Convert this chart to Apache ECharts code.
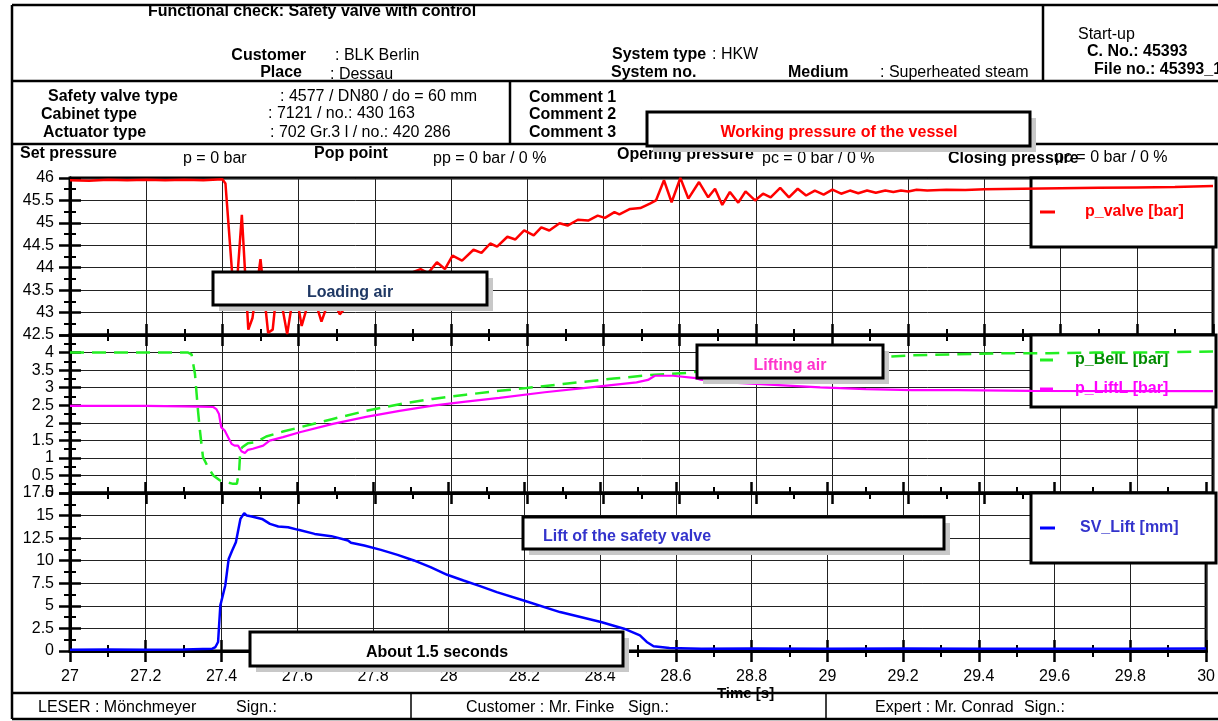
<!DOCTYPE html>
<html>
<head>
<meta charset="utf-8">
<title>Functional check: Safety valve with control</title>
<script src="https://cdn.jsdelivr.net/npm/echarts@6/dist/echarts.min.js"></script>
<style>
  html, body { margin: 0; padding: 0; background: #fff; }
  #chart { width: 1218px; height: 721px; }
</style>
</head>
<body>
<div id="chart"></div>
<script>
// ---- Measurement data: [time in s, value] ----
const timeRange = [27, 30];          // recording window
const timeStep = 0.2;

const pValveRange = [42.5, 46, 0.5]; // bar
const airRange = [0, 4.5, 0.5];      // bar
const liftRange = [0, 17.5, 2.5];    // mm

// Working pressure of the vessel
const pValve = [
  [27.00, 45.95], [27.05, 45.94], [27.10, 45.96], [27.15, 45.95], [27.20, 45.96],
  [27.25, 45.95], [27.30, 45.96], [27.35, 45.95], [27.40, 45.97], [27.408, 45.88],
  [27.428, 43.60], [27.436, 43.40], [27.451, 45.18], [27.468, 42.62], [27.479, 42.88],
  [27.500, 44.19], [27.520, 42.55], [27.532, 42.62], [27.545, 43.70], [27.570, 42.52],
  [27.590, 43.60], [27.608, 42.70], [27.620, 43.06], [27.635, 43.50], [27.660, 42.80],
  [27.685, 43.40], [27.708, 42.96], [27.740, 43.30], [27.780, 43.50], [27.820, 43.65],
  [27.860, 43.80], [27.900, 43.90], [27.920, 43.97], [27.940, 43.88], [27.963, 44.12],
  [27.984, 43.97], [28.004, 44.27], [28.029, 44.16], [28.059, 44.40], [28.080, 44.33],
  [28.103, 44.54], [28.121, 44.47], [28.148, 44.69], [28.169, 44.63], [28.192, 44.83],
  [28.217, 44.72], [28.237, 44.90], [28.258, 44.83], [28.285, 44.99], [28.306, 44.94],
  [28.333, 45.07], [28.360, 45.05], [28.385, 45.16], [28.404, 45.11], [28.429, 45.24],
  [28.442, 45.19], [28.470, 45.31], [28.497, 45.33], [28.522, 45.43], [28.538, 45.50],
  [28.559, 45.95], [28.579, 45.46], [28.602, 46.00], [28.623, 45.54], [28.651, 45.91],
  [28.675, 45.57], [28.693, 45.76], [28.712, 45.40], [28.732, 45.69], [28.754, 45.45],
  [28.773, 45.70], [28.798, 45.50], [28.819, 45.65], [28.839, 45.57], [28.864, 45.78],
  [28.887, 45.57], [28.910, 45.76], [28.932, 45.61], [28.955, 45.72], [28.978, 45.63],
  [29.001, 45.74], [29.024, 45.65], [29.047, 45.72], [29.069, 45.66], [29.092, 45.72],
  [29.115, 45.67], [29.140, 45.72], [29.161, 45.69], [29.181, 45.72], [29.200, 45.70],
  [29.222, 45.74], [29.250, 45.72], [29.300, 45.74], [29.350, 45.73], [29.400, 45.75],
  [29.500, 45.76], [29.600, 45.77], [29.700, 45.78], [29.800, 45.79], [29.900, 45.80],
  [30.000, 45.82]
];

// Loading air (bellows)
const pBelL = [
  [27.00, 4.00], [27.10, 4.00], [27.20, 4.00], [27.310, 4.00], [27.319, 3.95],
  [27.328, 3.39], [27.336, 2.34], [27.341, 1.78], [27.349, 1.02], [27.362, 0.74],
  [27.376, 0.50], [27.393, 0.36], [27.410, 0.31], [27.428, 0.26], [27.438, 0.26],
  [27.444, 0.64], [27.447, 1.21], [27.452, 1.30], [27.467, 1.42], [27.489, 1.45],
  [27.515, 1.61], [27.559, 1.75], [27.603, 1.87], [27.690, 2.11], [27.777, 2.34],
  [27.865, 2.53], [27.952, 2.68], [28.039, 2.80], [28.127, 2.91], [28.198, 2.99],
  [28.306, 3.12], [28.427, 3.26], [28.523, 3.36], [28.619, 3.42], [28.750, 3.58],
  [28.900, 3.74], [29.050, 3.84], [29.149, 3.88], [29.210, 3.92], [29.330, 3.95],
  [29.450, 3.98], [29.570, 3.98], [29.690, 4.00], [29.810, 4.00], [30.000, 4.03]
];

// Lifting air
const pLiftL = [
  [27.00, 2.48], [27.10, 2.48], [27.20, 2.48], [27.30, 2.47], [27.341, 2.46],
  [27.376, 2.45], [27.384, 2.39], [27.391, 2.25], [27.397, 1.87], [27.406, 1.78],
  [27.415, 1.59], [27.424, 1.40], [27.432, 1.35], [27.441, 1.35], [27.450, 1.19],
  [27.459, 1.14], [27.467, 1.23], [27.480, 1.26], [27.507, 1.35], [27.524, 1.49],
  [27.559, 1.59], [27.603, 1.73], [27.690, 1.97], [27.777, 2.17], [27.865, 2.34],
  [27.952, 2.49], [28.039, 2.60], [28.127, 2.71], [28.246, 2.87], [28.366, 3.01],
  [28.487, 3.15], [28.517, 3.22], [28.535, 3.34], [28.583, 3.34], [28.643, 3.27],
  [28.655, 3.23], [28.728, 3.15], [28.848, 3.08], [28.969, 3.01], [29.089, 2.96],
  [29.210, 2.93], [29.330, 2.93], [29.523, 2.91], [30.000, 2.90]
];

// Lift of the safety valve
const svLift = [
  [27.00, 0.15], [27.10, 0.16], [27.20, 0.15], [27.30, 0.17], [27.376, 0.26],
  [27.384, 0.44], [27.391, 1.00], [27.397, 5.05], [27.410, 7.26], [27.419, 10.20],
  [27.428, 11.10], [27.438, 12.05], [27.450, 14.63], [27.460, 15.26], [27.467, 15.00],
  [27.480, 14.90], [27.507, 14.63], [27.528, 14.08], [27.550, 13.79], [27.576, 13.71],
  [27.603, 13.42], [27.646, 12.97], [27.690, 12.72], [27.734, 12.24], [27.742, 11.98],
  [27.777, 11.68], [27.821, 11.20], [27.865, 10.65], [27.908, 10.03], [27.952, 9.29],
  [27.996, 8.44], [28.039, 7.81], [28.083, 7.19], [28.127, 6.52], [28.198, 5.60],
  [28.294, 4.31], [28.402, 3.21], [28.463, 2.47], [28.505, 1.73], [28.523, 1.00],
  [28.541, 0.52], [28.583, 0.33], [28.667, 0.26], [28.800, 0.27], [29.000, 0.26],
  [29.200, 0.27], [29.400, 0.24], [29.600, 0.26], [29.800, 0.25], [30.000, 0.27]
];

// ---- Drawing ----
const FONT = '"Liberation Sans", Arial, sans-serif';
const FS = 16;
const chart = echarts.init(document.getElementById('chart'), null, { renderer: 'canvas' });

const PLOT_LEFT = 70, PLOT_W = 1143;
const grids = [
  { top: 178, height: 157 },
  { top: 335, height: 158 },
  { top: 493, height: 158 }
];

function text(x, y, str, o) {
  o = o || {};
  const align = o.align || 'left';
  return {
    type: 'text', z: o.z || 6, silent: true,
    style: {
      x: x, y: y + 1, text: str,
      font: (o.bold ? 'bold ' : '') + (o.size || FS) + 'px ' + FONT,
      fill: o.color || '#000',
      align: align, verticalAlign: 'middle',
      textAlign: align, textVerticalAlign: 'middle'
    }
  };
}
function rule(x1, y1, x2, y2, w) {
  return { type: 'line', z: 6, silent: true, shape: { x1, y1, x2, y2 }, style: { stroke: '#000', lineWidth: w || 2.5 } };
}
function note(x1, y1, x2, y2, str, color, tx, align) {
  const w = x2 - x1, h = y2 - y1;
  return [
    { type: 'rect', z: 10, silent: true, shape: { x: x1 + 6, y: y1 + 6, width: w, height: h }, style: { fill: '#c8c8c8' } },
    { type: 'rect', z: 10, silent: true, shape: { x: x1, y: y1, width: w, height: h }, style: { fill: '#fff', stroke: '#000', lineWidth: 3 } },
    Object.assign(text(tx, y1 + h / 2 + 3, str, { bold: true, color: color, align: align || 'center' }), { z: 11 })
  ];
}
function legendBox(y1, y2) {
  return { type: 'rect', z: 1, silent: true, shape: { x: 1031, y: y1, width: 185, height: y2 - y1 }, style: { fill: '#fff', stroke: '#000', lineWidth: 3 } };
}

const graphics = [].concat(
  // outer frame and table rules
  rule(12, 5, 1218, 5, 2.5),
  rule(12, 5, 12, 719, 2.5),
  rule(12, 719, 1218, 719, 2.5),
  rule(12, 81, 1218, 81, 2.5),
  rule(1043, 5, 1043, 81, 2.5),
  rule(12, 144, 1218, 144, 2.5),
  rule(510, 81, 510, 144, 2.5),
  rule(12, 693, 1218, 693, 2.5),
  rule(411, 693, 411, 719, 1.5),
  rule(826, 693, 826, 719, 1.5),

  // header row 1
  text(306, 55, 'Customer', { bold: true, align: 'right' }),
  text(335, 55, ': BLK Berlin'),
  text(302, 72, 'Place', { bold: true, align: 'right' }),
  text(330, 74, ': Dessau'),
  text(612, 54, 'System type', { bold: true }),
  text(712, 54, ': HKW'),
  text(611, 72, 'System no.', { bold: true }),
  text(788, 72, 'Medium', { bold: true }),
  text(880, 72, ': Superheated steam'),
  text(1078, 34, 'Start-up'),
  text(1087, 51, 'C. No.: 45393', { bold: true }),
  text(1094, 69, 'File no.: 45393_1', { bold: true }),

  // header row 2
  text(48, 96, 'Safety valve type', { bold: true }),
  text(280, 96, ': 4577 / DN80 / do = 60 mm'),
  text(41, 114, 'Cabinet type', { bold: true }),
  text(268, 113, ': 7121 / no.: 430 163'),
  text(43, 132, 'Actuator type', { bold: true }),
  text(270, 132, ': 702 Gr.3 l / no.: 420 286'),
  text(529, 97, 'Comment 1', { bold: true }),
  text(529, 114, 'Comment 2', { bold: true }),
  text(529, 132, 'Comment 3', { bold: true }),

  // characteristic pressures
  text(20, 153, 'Set pressure', { bold: true }),
  text(183, 158, 'p = 0 bar'),
  text(314, 153, 'Pop point', { bold: true }),
  text(433, 158, 'pp = 0 bar / 0 %'),
  text(617, 154, 'Opening pressure', { bold: true }),
  text(762, 158, 'pc = 0 bar / 0 %'),
  text(948, 158, 'Closing pressure', { bold: true }),
  text(1055, 157, 'pc = 0 bar / 0 %'),

  // signatures
  text(38, 707, 'LESER : Mönchmeyer'),
  text(236, 707, 'Sign.:'),
  text(466, 707, 'Customer : Mr. Finke'),
  text(628, 707, 'Sign.:'),
  text(875, 707, 'Expert : Mr. Conrad'),
  text(1024, 707, 'Sign.:'),

  // legend frames
  legendBox(178, 247),
  legendBox(335, 407),
  legendBox(493, 563),

  // annotations
  note(647, 112, 1030, 146, 'Working pressure of the vessel', '#ff0000', 839),
  note(213, 272, 487, 305, 'Loading air', '#1f3864', 350),
  note(697, 345, 883, 378, 'Lifting air', '#ff33cc', 790),
  note(523, 517, 944, 549, 'Lift of the safety valve', '#3333cc', 543, 'left'),
  note(250, 632, 623, 666, 'About 1.5 seconds', '#000', 437)
);

const axisLineStyle = { show: true, onZero: false, lineStyle: { color: '#000', width: 3 } };
const gridSplit = { show: true, lineStyle: { color: '#222', width: 1 } };

function xAxis(gridIndex, position, inside, extra) {
  return Object.assign({
    type: 'value', gridIndex: gridIndex, position: position,
    min: timeRange[0], max: timeRange[1], interval: timeStep,
    axisLine: axisLineStyle,
    axisTick: { show: true, inside: inside, length: 11, lineStyle: { color: '#000', width: 2.5 } },
    minorTick: { show: true, splitNumber: 2, length: 6, lineStyle: { color: '#000', width: 2 } },
    axisLabel: { show: false },
    splitLine: { show: false },
    minorSplitLine: { show: false }
  }, extra || {});
}
function yAxis(gridIndex, range, inside, extra) {
  return Object.assign({
    type: 'value', gridIndex: gridIndex, position: 'left',
    min: range[0], max: range[1], interval: range[2],
    axisLine: axisLineStyle,
    axisTick: { show: true, inside: inside, length: 11, lineStyle: { color: '#000', width: 2.5 } },
    minorTick: { show: true, splitNumber: 2, length: 6, lineStyle: { color: '#000', width: 2 } },
    axisLabel: inside ? { show: false } : { show: true, color: '#000', fontSize: FS, fontFamily: FONT, margin: 16 },
    splitLine: inside ? { show: false } : gridSplit,
    minorSplitLine: { show: false }
  }, extra || {});
}

const xAxes = [
  xAxis(0, 'bottom', false, { splitLine: gridSplit }),
  xAxis(1, 'top', false),
  xAxis(1, 'bottom', false, { splitLine: gridSplit }),
  xAxis(2, 'top', false),
  xAxis(2, 'bottom', false, {
    splitLine: gridSplit,
    axisLabel: { show: true, color: '#000', fontSize: FS, fontFamily: FONT, margin: 18 },
    name: 'Time [s]', nameLocation: 'middle', nameGap: 28,
    nameTextStyle: { color: '#000', fontSize: 15, fontWeight: 'bold', fontFamily: FONT, padding: [0, 0, 0, 215] }
  }),
  xAxis(2, 'bottom', true)
];

const yAxes = [
  yAxis(0, pValveRange, false),
  yAxis(0, pValveRange, true),
  yAxis(1, airRange, false, {}),
  yAxis(1, airRange, true),
  yAxis(2, liftRange, false),
  yAxis(2, liftRange, true)
];
yAxes[2].axisLabel.showMaxLabel = false;

function lineSeries(name, data, xi, yi, color, width, dashed) {
  return {
    name: name, type: 'line', data: data,
    xAxisIndex: xi, yAxisIndex: yi, z: 3,
    symbol: 'none', showSymbol: false, smooth: false,
    itemStyle: { color: color },
    lineStyle: { color: color, width: width, type: dashed ? [14, 8] : 'solid' },
    emphasis: { disabled: true }
  };
}

const legendText = { fontFamily: FONT, fontWeight: 'bold', fontSize: FS };

const option = {
  animation: false,
  backgroundColor: '#fff',
  title: {
    text: 'Functional check: Safety valve with control',
    left: 148, top: 4, padding: 0,
    textStyle: { fontFamily: FONT, fontWeight: 'bold', fontSize: FS, color: '#000' }
  },
  grid: grids.map(g => ({
    left: PLOT_LEFT, width: PLOT_W, top: g.top, height: g.height,
    show: true, borderColor: '#000', borderWidth: 3, backgroundColor: 'transparent'
  })),
  xAxis: xAxes,
  yAxis: yAxes,
  legend: [
    {
      data: [{ name: 'p_valve [bar]', textStyle: { color: '#ff0000' } }],
      left: 1040, top: 204, orient: 'vertical', padding: 0, z: 2,
      icon: 'rect', itemWidth: 15, itemHeight: 3, selectedMode: false,
      textStyle: Object.assign({ padding: [0, 0, 0, 25] }, legendText)
    },
    {
      data: [
        { name: 'p_BelL [bar]', textStyle: { color: '#008a00' } },
        { name: 'p_LiftL [bar]', textStyle: { color: '#ff00ff' } }
      ],
      left: 1040, top: 352, orient: 'vertical', padding: 0, z: 2, itemGap: 13,
      icon: 'rect', itemWidth: 13, itemHeight: 3, selectedMode: false,
      textStyle: Object.assign({ padding: [0, 0, 0, 17] }, legendText)
    },
    {
      data: [{ name: 'SV_Lift [mm]', textStyle: { color: '#3333cc' } }],
      left: 1040, top: 520, orient: 'vertical', padding: 0, z: 2,
      icon: 'rect', itemWidth: 15, itemHeight: 3, selectedMode: false,
      textStyle: Object.assign({ padding: [0, 0, 0, 20] }, legendText)
    }
  ],
  series: [
    lineSeries('p_valve [bar]', pValve, 0, 0, '#ff0000', 2.5, false),
    lineSeries('p_BelL [bar]', pBelL, 2, 2, '#22ee22', 2.5, true),
    lineSeries('p_LiftL [bar]', pLiftL, 2, 2, '#ff00ff', 2.2, false),
    lineSeries('SV_Lift [mm]', svLift, 4, 4, '#0000ff', 2.5, false)
  ],
  graphic: { elements: graphics }
};

chart.setOption(option);
</script>
</body>
</html>
